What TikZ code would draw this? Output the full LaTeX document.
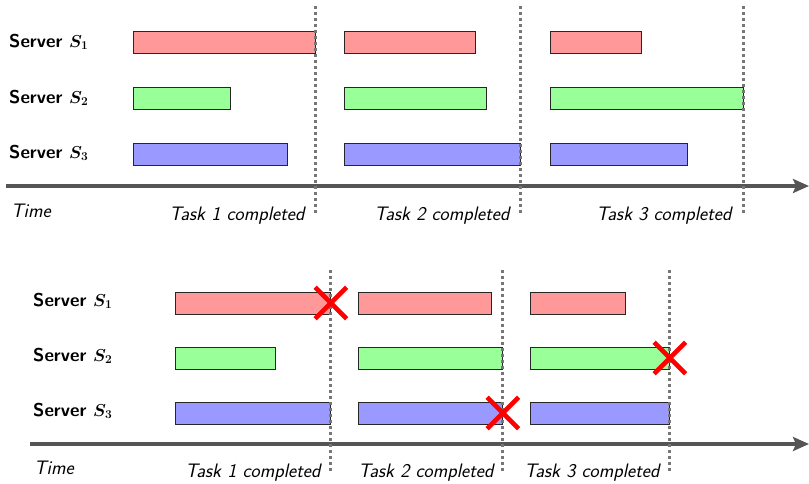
\documentclass[tikz,border=0pt]{standalone}
\usepackage{amsmath,bm}
\usetikzlibrary{arrows.meta,shapes.misc}

\definecolor{barred}{HTML}{FF9999}
\definecolor{bargreen}{HTML}{99FF99}
\definecolor{barblue}{HTML}{9999FF}
\definecolor{axisgray}{HTML}{555555}
\definecolor{dotgray}{HTML}{777777}

\tikzset{
  lbl/.style={anchor=west, inner sep=0pt, font=\fontsize{18.5}{22}\selectfont\sffamily\bfseries\boldmath},
  note/.style={inner sep=0pt, font=\fontsize{19.5}{23}\selectfont\sffamily\itshape},
  bar/.style={draw=black!85, line width=0.9pt, inner sep=0pt, minimum height=22pt, anchor=west},
  redbar/.style={bar, fill=barred},
  greenbar/.style={bar, fill=bargreen},
  bluebar/.style={bar, fill=barblue},
  timeaxis/.style={draw=axisgray, line width=4.5pt, -{Stealth[length=16pt,width=14pt,inset=3pt]}},
  marker/.style={draw=dotgray, line width=3pt, dash pattern=on 3pt off 3pt},
  fail/.style={cross out, draw=red, line width=4.5pt, minimum size=27pt, inner sep=0pt},
}

% bar between x-positions #2 and #3 at height #4, style #1, name #5
\newcommand{\taskbar}[5]{%
  \node[#1, minimum width={#3pt-#2pt}] (#5) at (#2,#4) {};}

\begin{document}
\begin{tikzpicture}[x=1pt, y=-1pt]
\useasboundingbox (0,0) rectangle (809,483);

% ---------- upper timeline: all servers finish ----------
\node[lbl] (a1) at (9,42) {Server $S_1$};
\node[lbl] (a2) at (9,98) {Server $S_2$};
\node[lbl] (a3) at (9,153) {Server $S_3$};

\taskbar{redbar}{133}{315}{42}{ar1}
\taskbar{greenbar}{133}{230}{98}{ag1}
\taskbar{bluebar}{133}{287}{154}{ab1}
\taskbar{redbar}{344}{475}{42}{ar2}
\taskbar{greenbar}{344}{486}{98}{ag2}
\taskbar{bluebar}{344}{520}{154}{ab2}
\taskbar{redbar}{550}{641}{42}{ar3}
\taskbar{greenbar}{550}{743}{98}{ag3}
\taskbar{bluebar}{550}{687}{154}{ab3}

\coordinate (at0) at (6,186);
\coordinate (at1) at (809,186);
\draw[timeaxis] (at0) -- (at1);

\coordinate (ad1t) at (315,6);   \coordinate (ad1b) at (315,214);
\coordinate (ad2t) at (520,6);   \coordinate (ad2b) at (520,214);
\coordinate (ad3t) at (743,6);   \coordinate (ad3b) at (743,214);
\draw[marker] (ad1t) -- (ad1b);
\draw[marker] (ad2t) -- (ad2b);
\draw[marker] (ad3t) -- (ad3b);

\node[note, anchor=west] (atime) at (11,211) {Time};
\node[note] (ac1) at (237,216) {Task 1 completed};
\node[note] (ac2) at (442,216) {Task 2 completed};
\node[note] (ac3) at (664,216) {Task 3 completed};

% ---------- lower timeline: one server fails per task ----------
\node[lbl] (b1) at (33,301) {Server $S_1$};
\node[lbl] (b2) at (33,356) {Server $S_2$};
\node[lbl] (b3) at (33,411) {Server $S_3$};

\taskbar{redbar}{175}{330}{303}{br1}
\taskbar{greenbar}{175}{275}{358}{bg1}
\taskbar{bluebar}{175}{330}{413}{bb1}
\taskbar{redbar}{358}{491}{303}{br2}
\taskbar{greenbar}{358}{502}{358}{bg2}
\taskbar{bluebar}{358}{502}{413}{bb2}
\taskbar{redbar}{530}{625}{303}{br3}
\taskbar{greenbar}{530}{669}{358}{bg3}
\taskbar{bluebar}{530}{669}{413}{bb3}

\coordinate (bt0) at (30,444);
\coordinate (bt1) at (809,444);
\draw[timeaxis] (bt0) -- (bt1);

\coordinate (bd1t) at (330,270);   \coordinate (bd1b) at (330,471);
\coordinate (bd2t) at (502,270);   \coordinate (bd2b) at (502,471);
\coordinate (bd3t) at (669,270);   \coordinate (bd3b) at (669,471);
\draw[marker] (bd1t) -- (bd1b);
\draw[marker] (bd2t) -- (bd2b);
\draw[marker] (bd3t) -- (bd3b);

\node[fail] (x1) at (br1.east) {};
\node[fail] (x2) at (bb2.east) {};
\node[fail] (x3) at (bg3.east) {};

\node[note, anchor=west] (btime) at (34,468) {Time};
\node[note] (bc1) at (253,473) {Task 1 completed};
\node[note] (bc2) at (426,473) {Task 2 completed};
\node[note] (bc3) at (592,473) {Task 3 completed};
\end{tikzpicture}
\end{document}
